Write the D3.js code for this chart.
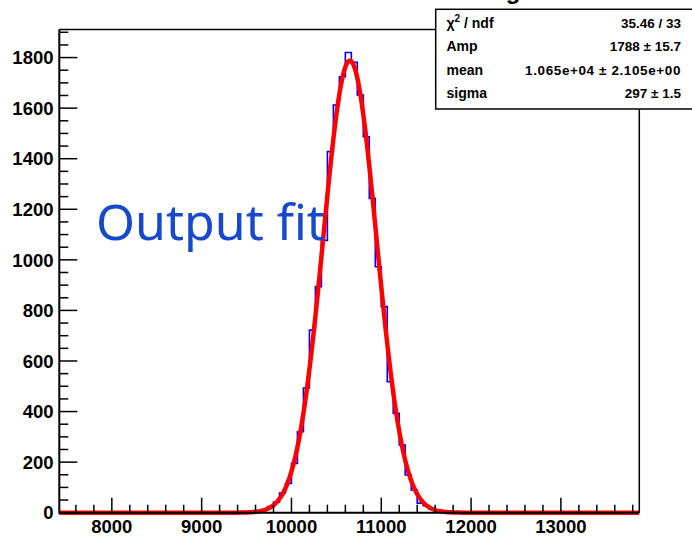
<!DOCTYPE html>
<html>
<head>
<meta charset="utf-8">
<script src="https://cdnjs.cloudflare.com/ajax/libs/d3/7.8.5/d3.min.js"></script>
<style>
body { margin: 0; background: #fff; }
svg { display: block; }
</style>
</head>
<body>
<div id="chart"></div>
<script>
var w = 692,
    h = 536;

// histogram: 36 filled bins of width 200/3 starting at 9400
var binStart = 9400;
var binWidth = 200 / 3;
var counts = [0, 1, 3, 5, 12, 24, 42, 78, 116, 195, 320, 493, 722, 894, 1077, 1428, 1612, 1724,
              1820, 1781, 1652, 1487, 1243, 973, 815, 518, 393, 268, 149, 90, 38, 28, 14, 8, 3, 1];

// gaus fit parameters (from the stats box)
var fitAmp = 1788,
    fitMean = 10650,
    fitSigma = 297;

var xMajorTicks = [8000, 9000, 10000, 11000, 12000, 13000];
var yMajorTicks = [0, 200, 400, 600, 800, 1000, 1200, 1400, 1600, 1800];

var statLabels = ['χ2 / ndf', 'Amp', 'mean', 'sigma'];
var statValues = ['35.46 / 33', '1788 ± 15.7', '1.065e+04 ± 2.105e+00', '297 ± 1.5'];

var frame = { left: 59.3, right: 639.3, top: 29.5, bottom: 512.7 };

var x = d3.scaleLinear().domain([7415, 13873]).range([frame.left, frame.right]);
var y = d3.scaleLinear().domain([0, 1911]).range([frame.bottom, frame.top]);

var svg = d3.select('#chart')
    .append('svg')
    .attr('width', w)
    .attr('height', h)

svg.append('defs').append('clipPath').attr('id', 'clip')
    .append('rect')
    .attr('x', frame.left - 3).attr('y', frame.top)
    .attr('width', frame.right - frame.left + 3).attr('height', frame.bottom - frame.top + 3)

// histogram outline
var pts = [[x.domain()[0], 0], [binStart, 0]];
counts.forEach(function(c, i) {
    pts.push([binStart + i * binWidth, c]);
    pts.push([binStart + (i + 1) * binWidth, c]);
});
pts.push([binStart + counts.length * binWidth, 0]);
pts.push([x.domain()[1], 0]);

svg.append('path')
    .attr('d', d3.line().x(function(d) { return x(d[0]) }).y(function(d) { return y(d[1]) })(pts))
    .attr('fill', 'none')
    .attr('stroke', '#0000ff')
    .attr('stroke-width', 1.6)

// fit curve
var xs = d3.range(0, 601).map(function(k) { return x.domain()[0] + k * (x.domain()[1] - x.domain()[0]) / 600 });
svg.append('path')
    .attr('clip-path', 'url(#clip)')
    .attr('d', d3.line()
        .x(function(v) { return x(v) })
        .y(function(v) { return y(fitAmp * Math.exp(-0.5 * Math.pow((v - fitMean) / fitSigma, 2))) })(xs))
    .attr('fill', 'none')
    .attr('stroke', '#ff0000')
    .attr('stroke-width', 4.5)
    .attr('stroke-linejoin', 'round')

// frame
svg.append('line').attr('x1', frame.left).attr('x2', 436).attr('y1', frame.top).attr('y2', frame.top)
    .attr('stroke', '#000').attr('stroke-width', 1.5)
svg.append('line').attr('x1', frame.right).attr('x2', frame.right).attr('y1', frame.top).attr('y2', frame.bottom)
    .attr('stroke', '#000').attr('stroke-width', 1.5)

// y axis
var yAxis = svg.append('g')
var yMinor = d3.range(0, 1901, 50);
yAxis.selectAll('line.minor').data(yMinor).enter().append('line')
    .attr('x1', frame.left).attr('x2', function(d) { return frame.left + (d % 200 === 0 ? 18 : 9) })
    .attr('y1', function(d) { return y(d) }).attr('y2', function(d) { return y(d) })
    .attr('stroke', '#000').attr('stroke-width', 1.5)
yAxis.append('line').attr('x1', frame.left).attr('x2', frame.left).attr('y1', frame.top).attr('y2', frame.bottom + 1)
    .attr('stroke', '#000').attr('stroke-width', 2)
yAxis.selectAll('text').data(yMajorTicks).enter().append('text')
    .text(function(d) { return d })
    .attr('x', 53.5)
    .attr('y', function(d) { return y(d) })
    .attr('dy', '0.36em')
    .attr('text-anchor', 'end')
    .attr('font-family', 'Liberation Sans, Arial, sans-serif')
    .attr('font-weight', 'bold')
    .attr('font-size', 18.5)

// x axis
var xAxis = svg.append('g')
var xMinor = d3.range(7600, 13801, 200);
xAxis.selectAll('line.minor').data(xMinor).enter().append('line')
    .attr('x1', function(d) { return x(d) }).attr('x2', function(d) { return x(d) })
    .attr('y1', frame.bottom).attr('y2', function(d) { return frame.bottom - (d % 1000 === 0 ? 15 : 8) })
    .attr('stroke', '#000').attr('stroke-width', 1.5)
xAxis.append('line').attr('x1', frame.left).attr('x2', frame.right).attr('y1', frame.bottom).attr('y2', frame.bottom)
    .attr('stroke', '#000').attr('stroke-width', 2)
xAxis.selectAll('text').data(xMajorTicks).enter().append('text')
    .text(function(d) { return d })
    .attr('x', function(d) { return x(d) })
    .attr('y', 533)
    .attr('text-anchor', 'middle')
    .attr('font-family', 'Liberation Sans, Arial, sans-serif')
    .attr('font-weight', 'bold')
    .attr('font-size', 18.5)

// annotation
svg.append('text')
    .text('Output fit')
    .attr('x', 96)
    .attr('y', 240)
    .attr('font-family', 'Noto Sans, Open Sans, sans-serif')
    .attr('font-size', 50)
    .attr('fill', '#1848cc')

// title remnant peeking above the stats box
svg.append('text')
    .text('g')
    .attr('x', 513)
    .attr('y', -1)
    .attr('text-anchor', 'middle')
    .attr('font-family', 'Liberation Sans, Arial, sans-serif')
    .attr('font-weight', 'bold')
    .attr('font-size', 24)

// stats box
var stats = svg.append('g')
stats.append('rect')
    .attr('x', 435.7).attr('y', 9.3).attr('width', 270).attr('height', 99.7)
    .attr('fill', '#fff').attr('stroke', '#000').attr('stroke-width', 1.5)

var rows = stats.selectAll('g.row').data(statLabels).enter().append('g')
    .attr('transform', function(d, i) { return 'translate(0,' + (28.3 + i * 23.1) + ')' })

rows.append('text')
    .attr('x', 446.5)
    .attr('font-family', 'Liberation Sans, Arial, sans-serif')
    .attr('font-weight', 'bold')
    .attr('font-size', 14)
    .each(function(d) {
        var t = d3.select(this);
        if (d.indexOf('χ2') === 0) {
            t.append('tspan').text('χ');
            t.append('tspan').text('2').attr('font-size', 10).attr('dy', -6);
            t.append('tspan').text(' / ndf').attr('dy', 6);
        } else {
            t.text(d);
        }
    })

rows.append('text')
    .text(function(d, i) { return statValues[i] })
    .attr('x', 681)
    .attr('text-anchor', 'end')
    .attr('font-family', 'Liberation Sans, Arial, sans-serif')
    .attr('font-weight', 'bold')
    .attr('font-size', 13.5)
    .attr('letter-spacing', function(d, i) { return i === 2 ? 0.6 : 0 })
</script>
</body>
</html>
